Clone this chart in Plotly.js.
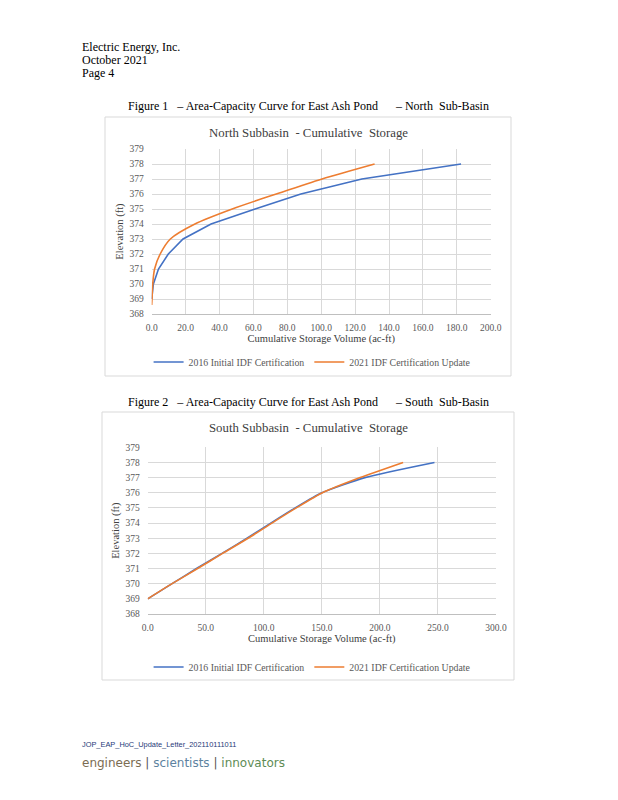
<!DOCTYPE html>
<html>
<head>
<meta charset="utf-8">
<script src="https://cdn.plot.ly/plotly-3.0.1.min.js"></script>
<style>
html,body{margin:0;padding:0;background:#fff;}
#page{width:618px;height:800px;}
</style>
</head>
<body>
<div id="page"></div>
<script>
// ---- data ----
var seriesNames = ["2016 Initial IDF Certification", "2021 IDF Certification Update"];
var northElev2016 = [369, 370, 371, 372, 373, 374, 375, 376, 377, 378];
var northVol2016  = [0.0, 1.0, 4.0, 9.8, 18.5, 35.0, 61.0, 88.0, 124.0, 182.5];
var northElev2021 = [368.6, 369, 370, 371, 372, 373, 374, 375, 376, 377, 378];
var northVol2021  = [0.0, 0.2, 0.6, 1.7, 5.0, 11.0, 25.5, 47.5, 73.5, 100.5, 131.5];
var southElev2016 = [369, 370, 371, 372, 373, 374, 375, 376, 377, 378];
var southVol2016  = [0.0, 21.0, 42.0, 64.0, 85.5, 106.0, 127.0, 150.0, 187.0, 247.0];
var southElev2021 = [369, 370, 371, 372, 373, 374, 375, 376, 377, 378];
var southVol2021  = [0.0, 21.0, 43.0, 64.5, 86.5, 107.0, 128.0, 150.5, 183.0, 220.0];
var yTicks = [368, 369, 370, 371, 372, 373, 374, 375, 376, 377, 378, 379];
var northXTicks = [0, 20, 40, 60, 80, 100, 120, 140, 160, 180, 200];
var southXTicks = [0, 50, 100, 150, 200, 250, 300];

var W = 618, H = 800;
function px(x){ return x / W; }
function py(y){ return 1 - y / H; }

var BLUE = '#4472c4', ORANGE = '#ed7d31';
var SERIF = 'Liberation Serif, Times New Roman, serif';

var traces = [
  {x: northVol2016, y: northElev2016, name: seriesNames[0], mode: 'lines', type: 'scatter',
   line: {color: BLUE, width: 1.6}, xaxis: 'x', yaxis: 'y', legend: 'legend'},
  {x: northVol2021, y: northElev2021, name: seriesNames[1], mode: 'lines', type: 'scatter',
   line: {color: ORANGE, width: 1.6, shape: 'spline', smoothing: 0.8}, xaxis: 'x', yaxis: 'y', legend: 'legend'},
  {x: southVol2016, y: southElev2016, name: seriesNames[0], mode: 'lines', type: 'scatter',
   line: {color: BLUE, width: 1.6, shape: 'spline', smoothing: 0.6}, xaxis: 'x2', yaxis: 'y2', legend: 'legend2'},
  {x: southVol2021, y: southElev2021, name: seriesNames[1], mode: 'lines', type: 'scatter',
   line: {color: ORANGE, width: 1.6, shape: 'spline', smoothing: 0.6}, xaxis: 'x2', yaxis: 'y2', legend: 'legend2'}
];

var tickFont = {family: SERIF, size: 9.5, color: '#595959'};
var axTitleFont = {family: SERIF, size: 10.5, color: '#404040'};

function xAxis(domain, range, ticks, anchor){
  return {domain: domain, range: range, tickvals: ticks, tickformat: '.1f', anchor: anchor,
    showgrid: true, gridcolor: '#d9d9d9', gridwidth: 1, zeroline: false,
    showline: true, linecolor: '#bfbfbf', linewidth: 1,
    ticks: 'outside', ticklen: 5, tickcolor: 'rgba(0,0,0,0)',
    tickfont: tickFont, fixedrange: true,
    title: {text: 'Cumulative Storage Volume (ac-ft)', font: axTitleFont, standoff: 2}};
}
function yAxis(domain, anchor){
  return {domain: domain, range: [368, 379], tickvals: yTicks, anchor: anchor,
    showgrid: true, gridcolor: '#d9d9d9', gridwidth: 1, zeroline: false,
    showline: false, ticks: 'outside', ticklen: 5, tickcolor: 'rgba(0,0,0,0)',
    tickfont: tickFont, fixedrange: true,
    title: {text: 'Elevation (ft)', font: axTitleFont, standoff: 3}};
}

var legendCommon = {orientation: 'h', xref: 'paper', yref: 'paper', x: 0.505, xanchor: 'center',
  yanchor: 'middle', font: {family: SERIF, size: 9.8, color: '#595959'},
  bgcolor: 'rgba(0,0,0,0)', itemwidth: 30, tracegroupgap: 0};

var layout = {
  width: W, height: H,
  margin: {l: 0, r: 0, t: 0, b: 0},
  paper_bgcolor: '#ffffff', plot_bgcolor: '#ffffff',
  showlegend: true,
  xaxis: xAxis([px(151.7), px(490.7)], [0, 200], northXTicks, 'y'),
  yaxis: yAxis([py(314), py(149)], 'x'),
  xaxis2: xAxis([px(147.7), px(496)], [0, 300], southXTicks, 'y2'),
  yaxis2: yAxis([py(614), py(447.3)], 'x2'),
  legend: Object.assign({}, legendCommon, {y: py(362)}),
  legend2: Object.assign({}, legendCommon, {y: py(667)}),
  shapes: [
    {type: 'rect', xref: 'paper', yref: 'paper', x0: px(105), x1: px(511), y0: py(376), y1: py(117),
     line: {color: '#d9d9d9', width: 1}, layer: 'below'},
    {type: 'rect', xref: 'paper', yref: 'paper', x0: px(102), x1: px(514), y0: py(680), y1: py(412),
     line: {color: '#d9d9d9', width: 1}, layer: 'below'}
  ],
  annotations: [
    {text: 'Electric Energy, Inc.', x: px(80), y: py(47), xanchor: 'left', yanchor: 'middle'},
    {text: 'October 2021', x: px(80), y: py(60), xanchor: 'left', yanchor: 'middle'},
    {text: 'Page 4', x: px(80), y: py(73), xanchor: 'left', yanchor: 'middle'},
    {text: 'Figure 1   \u2013 Area-Capacity Curve for East Ash Pond      \u2013 North  Sub-Basin', x: px(308), y: py(106), xanchor: 'center', yanchor: 'middle'},
    {text: 'Figure 2   \u2013 Area-Capacity Curve for East Ash Pond      \u2013 South  Sub-Basin', x: px(308), y: py(402), xanchor: 'center', yanchor: 'middle'},
    {text: 'North Subbasin  - Cumulative  Storage', x: px(308), y: py(133), xanchor: 'center', yanchor: 'middle',
     font: {family: SERIF, size: 12.8, color: '#404040'}},
    {text: 'South Subbasin  - Cumulative  Storage', x: px(308), y: py(428), xanchor: 'center', yanchor: 'middle',
     font: {family: SERIF, size: 12.8, color: '#404040'}},
    {text: 'JOP_EAP_HoC_Update_Letter_202110111011', x: px(80), y: py(744), xanchor: 'left', yanchor: 'middle',
     font: {family: 'Liberation Sans, Arial, sans-serif', size: 7.4, color: '#1f3a78'}},
    {text: '<span style="color:#7b6c52">engineers</span> <span style="color:#555">|</span> <span style="color:#5d82a0">scientists</span> <span style="color:#555">|</span> <span style="color:#5e8c55">innovators</span>',
     x: px(80), y: py(763), xanchor: 'left', yanchor: 'middle',
     font: {family: 'DejaVu Sans, sans-serif', size: 12, color: '#555'}}
  ].map(function(a){
    return Object.assign({xref: 'paper', yref: 'paper', showarrow: false,
      font: {family: SERIF, size: 12, color: '#000'}}, a);
  })
};

Plotly.newPlot('page', traces, layout, {displayModeBar: false, staticPlot: true});
</script>
</body>
</html>
